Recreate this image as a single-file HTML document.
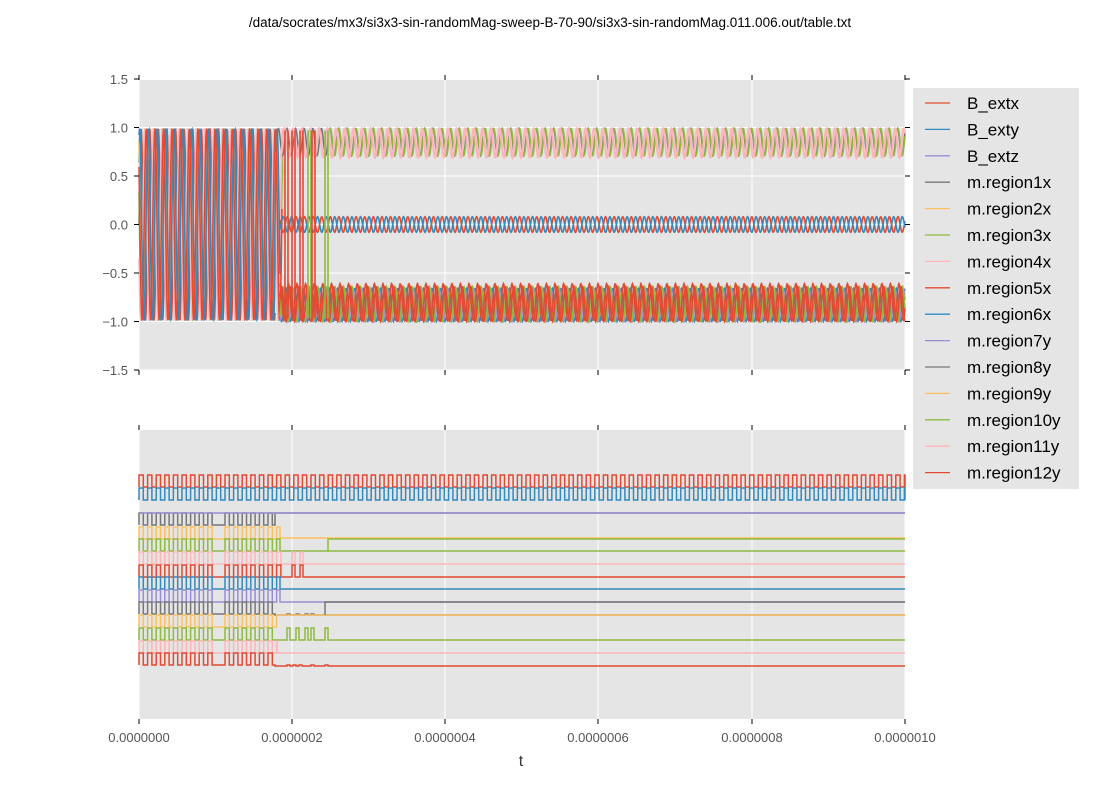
<!DOCTYPE html><html><head><meta charset="utf-8"><style>
body{margin:0;background:#fff;}svg text{font-family:"Liberation Sans",sans-serif;}
</style></head><body>
<svg id="s" width="1100" height="800" xmlns="http://www.w3.org/2000/svg">
<rect width="1100" height="800" fill="#fff"/>
<text x="550" y="27" font-size="13.5" text-anchor="middle">/data/socrates/mx3/si3x3-sin-randomMag-sweep-B-70-90/si3x3-sin-randomMag.011.006.out/table.txt</text>
<rect x="139" y="80" width="766" height="290" fill="#e5e5e5"/>
<rect x="139" y="430" width="766" height="289" fill="#e5e5e5"/>
<g id="grid" stroke="#fff" stroke-width="1"></g>
<g id="top" fill="none" stroke-width="1.6"></g>
<g id="bot" fill="none" stroke-width="1.5"></g>
<g id="ticks" stroke="#000" stroke-width="1"></g>
<g id="lab" font-size="13" fill="#555"></g>
<text x="521" y="766" font-size="16" text-anchor="middle" fill="#333">t</text>
<rect x="913" y="88" width="166" height="401" fill="#e5e5e5"/>
<g id="leg" font-size="17"></g>
</svg>
<script>
const NS="http://www.w3.org/2000/svg";
function el(p,t,a,txt){const e=document.createElementNS(NS,t);for(const k in a)e.setAttribute(k,a[k]);if(txt!==undefined)e.textContent=txt;document.getElementById(p).appendChild(e);return e;}
const C=["#E24A33","#348ABD","#988ED5","#777777","#FBC15E","#8EBA42","#FFB5B8"];
const xs=[139,292,445,598,752,905],xl=["0.0000000","0.0000002","0.0000004","0.0000006","0.0000008","0.0000010"];
const ys=[79,127.5,176,224.5,273,321.5,370],yl=["1.5","1.0","0.5","0.0","−0.5","−1.0","−1.5"];
xs.forEach((x,i)=>{el("grid","line",{x1:x,y1:80,x2:x,y2:370});el("grid","line",{x1:x,y1:430,x2:x,y2:719});
 el("ticks","line",{x1:x,y1:75,x2:x,y2:80});el("ticks","line",{x1:x,y1:370,x2:x,y2:375});
 el("ticks","line",{x1:x,y1:425,x2:x,y2:430});el("ticks","line",{x1:x,y1:719,x2:x,y2:724});
 el("lab","text",{x:x,y:742,"text-anchor":"middle"},xl[i]);});
ys.forEach((y,i)=>{el("grid","line",{x1:139,y1:y,x2:905,y2:y});el("ticks","line",{x1:134,y1:y,x2:139,y2:y});el("ticks","line",{x1:905,y1:y,x2:910,y2:y});
 el("lab","text",{x:128,y:y+5,"text-anchor":"end"},yl[i]);});
const Y=v=>224.5-v*97, P=8.6;
function path(f,x0,x1){let d="";for(let x=x0;x<=x1;x+=0.5){d+=(d?"L":"M")+x.toFixed(1)+","+f(x).toFixed(1);}return d;}
const w=x=>2*Math.PI*(x-139)/P;
for(let k=0;k<6;k++){const c=C[[0,1,3,4,5,6][k]];
 el("top","path",{d:path(x=>Y(Math.sin(w(x)+k*0.7)*0.99),139,275+k*2),stroke:c});}
el("top","path",{d:path(x=>Y(Math.sin(w(x)+1.2)*0.99),139,280),stroke:"#348ABD"});
el("top","path",{d:path(x=>Y(Math.sin(w(x)+2.5)*0.99),139,282),stroke:"#E24A33"});
el("top","path",{d:path(x=>Y(0.85+0.14*Math.sin(w(x)+0.3)),275,905),stroke:"#777777"});
el("top","path",{d:path(x=>Y(0.85+0.14*Math.sin(w(x))),328,905),stroke:"#8EBA42"});
el("top","path",{d:path(x=>Y(0.84+0.15*Math.sin(w(x)+2)),280,905),stroke:"#FFB5B8","stroke-width":2.2});
el("top","path",{d:path(x=>Y(0.08*Math.sin(w(x))),280,905),stroke:"#E24A33"});
el("top","path",{d:path(x=>Y(0.08*Math.sin(w(x)+3.1)),280,905),stroke:"#348ABD"});
el("top","path",{d:path(x=>Y(-0.83+0.17*Math.sin(w(x)+1)),280,905),stroke:"#348ABD"});
el("top","path",{d:path(x=>Y(-0.83+0.17*Math.sin(w(x)+2.4)),280,905),stroke:"#988ED5"});
el("top","path",{d:path(x=>Y(-0.82+0.18*Math.sin(w(x)+3)),280,905),stroke:"#8EBA42"});
el("top","path",{d:path(x=>Y(-0.82+0.18*Math.sin(w(x)+4.2)),280,905),stroke:"#E24A33"});
el("top","path",{d:path(x=>Y(-0.8+0.19*Math.sin(w(x)+5.5)),280,905),stroke:"#E24A33"});
[[285,"#E24A33"],[292,"#E24A33"],[300,"#E24A33"],[308,"#8EBA42"],[312,"#E24A33"],[325,"#8EBA42"]].forEach(([x,c])=>{el("top","path",{d:`M${x},${Y(0.97)}L${x},${Y(-0.97)}M${x+3},${Y(0.97)}L${x+3},${Y(-0.97)}`,stroke:c});});
function sq(top,end,gap,after,pulses){let d,per=8.6,lo=top+12;let x=139,s=0;d=`M139,${lo}`;
 while(x<end){const nx=Math.min(x+per/2,end);const yv=(gap&&x>=210&&x<222)?lo:(s?lo:top);d+=`L${x},${yv}L${nx},${yv}`;x=nx;s^=1;}
 const ay=after;d+=`L${end},${ay}`;
 (pulses||[]).forEach(p=>{const o=ay===lo?top:lo;d+=`L${p},${ay}L${p},${o}L${p+3},${o}L${p+3},${ay}`;});
 d+=`L905,${ay}`;return d;}
const rows=[
 [475,905,false,488,[],C[0]],[488,905,false,500,[],C[1]],
 [513,275,true,513,[],C[3]],[527,280,true,538,[],C[4]],[539,280,true,551,[],C[5]],
 [552,282,true,564,[292,300],C[6]],[565,282,true,577,[292,300],C[0]],[577,280,true,589,[],C[1]],
 [590,280,true,602,[],C[2]],[602,275,true,615,[287,296,305,311],C[3]],[615,277,true,615,[],C[4]],
 [628,275,true,640,[287,296,305,311,325],C[5]],[641,277,true,653,[],C[6]],[653,275,true,666,[287,293,299,311,325],C[0]]];
rows.forEach(r=>el("bot","path",{d:sq(r[0],r[1],r[2],r[3],r[4]),stroke:r[5]}));
el("bot","path",{d:"M139,513L905,513",stroke:C[2]});
el("bot","path",{d:"M328,551L328,539L905,539",stroke:C[5]});
el("bot","path",{d:"M325,615L325,602L905,602",stroke:C[3]});
const names=["B_extx","B_exty","B_extz","m.region1x","m.region2x","m.region3x","m.region4x","m.region5x","m.region6x","m.region7y","m.region8y","m.region9y","m.region10y","m.region11y","m.region12y"];
names.forEach((n,i)=>{const y=103+i*26.4;el("leg","line",{x1:925,y1:y,x2:950,y2:y,stroke:C[i%7],"stroke-width":1.3});el("leg","text",{x:967,y:y+6},n);});
</script>
</body></html>
